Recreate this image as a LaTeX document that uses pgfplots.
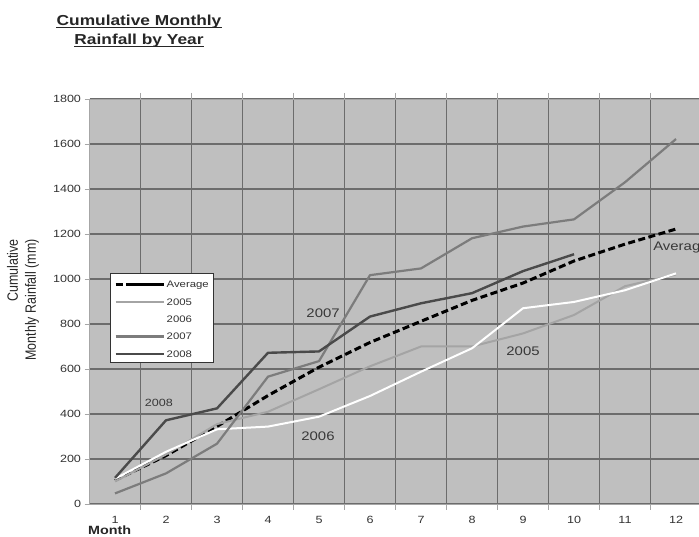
\documentclass[border=0pt]{standalone}
\usepackage{pgfplots}
\pgfplotsset{compat=1.18}
\usepackage{fontspec}
\setmainfont[FakeStretch=1.2]{Liberation Sans}
\newfontfamily\plainsans{Liberation Sans}
\definecolor{plotbg}{HTML}{BFBFBF}
\definecolor{gridc}{HTML}{6C6C6C}
\definecolor{tickc}{HTML}{333333}
\definecolor{annc}{HTML}{383838}
\definecolor{cA}{HTML}{A4A4A4}
\definecolor{cB}{HTML}{7C7C7C}
\definecolor{cC}{HTML}{4A4A4A}

\begin{document}
\begin{tikzpicture}[x=1bp,y=1bp]
\useasboundingbox (0,0) rectangle (699,537);
\clip (0,0) rectangle (699,537);
\fill[white] (0,0) rectangle (699,537);

% title
\node[anchor=base, inner sep=0pt, font=\bfseries\fontsize{14.5}{17}\selectfont, text=black!85] (t1) at (139,511.5) {Cumulative Monthly};
\draw[line width=1.1bp, black!85] ([yshift=-2.3bp]t1.base west) -- ([yshift=-2.3bp]t1.base east);
\node[anchor=base, inner sep=0pt, font=\bfseries\fontsize{14.5}{17}\selectfont, text=black!85] (t2) at (139,492.5) {Rainfall by Year};
\draw[line width=1.1bp, black!85] ([yshift=-2.3bp]t2.base west) -- ([yshift=-2.3bp]t2.base east);

% y label
\node[rotate=90, align=right, inner sep=0pt, font=\plainsans\fontsize{12.5}{18}\selectfont, text=black!85] at (23,237) {\scalebox{1}[1.2]{Cumulative}\\\scalebox{1}[1.2]{Monthly Rainfall (mm)}};

% x label
\node[anchor=base west, inner sep=0pt, font=\bfseries\fontsize{12}{14}\selectfont, text=black!85] at (88,2.5) {Month};

\begin{axis}[
  at={(89.5bp,33bp)}, anchor=south west,
  scale only axis, width=612bp, height=405bp,
  xmin=0.5, xmax=12.5, ymin=0, ymax=1800,
  xtick={1,...,12},
  minor xtick={1.5,2.5,...,12.5},
  ytick={0,200,...,1800},
  xminorgrids=true, ymajorgrids=true, xmajorgrids=false,
  grid style={draw=gridc, line width=1.3bp},
  minor grid style={draw=gridc, line width=1.3bp},
  axis background/.style={fill=plotbg},
  axis line style={draw=gray!70, line width=0.8bp},
  tick align=outside,
  major x tick style={draw=none},
  minor x tick style={draw=gray!70, line width=0.8bp},
  major y tick style={draw=gray!70, line width=0.8bp},
  major tick length=5bp, minor tick length=6bp,
  /pgf/number format/assume math mode=true,
  /pgf/number format/set thousands separator={},
  ticklabel style={font=\fontsize{10.5}{12}\selectfont, text=tickc},
  xticklabel style={yshift=-4bp},
  legend cell align=left,
  legend image code/.code={\draw[#1] (15bp,3.3bp) -- (48bp,3.3bp); \path (0bp,3.3bp) -- (48bp,3.3bp);},
  legend style={at={(0.0335,0.570)}, anchor=north west, fill=white, draw=black!80, thin,
    font=\fontsize{9.5}{11}\selectfont, text=tickc,
    inner xsep=4bp, inner ysep=1bp, row sep=0pt,
    /tikz/column sep=1.5bp,
    nodes={inner sep=0pt, text height=13.5bp, text depth=3.8bp, anchor=base west}},
]
\addplot[black, line width=3bp, dash pattern=on 7bp off 3.5bp] coordinates {
 (1,105) (2,215) (3,345) (4,482) (5,608) (6,718) (7,812) (8,905) (9,982) (10,1080) (11,1155) (12,1222)};
\addlegendentry{Average}
\addplot[cA, line width=2bp, line join=round] coordinates {
 (1,100) (2,220) (3,355) (4,410) (5,510) (6,612) (7,700) (8,700) (9,758) (10,840) (11,968) (12,1020)};
\addlegendentry{2005}
\addplot[white, line width=2bp, line join=round] coordinates {
 (1,112) (2,232) (3,332) (4,344) (5,388) (6,480) (7,588) (8,692) (9,870) (10,898) (11,950) (12,1025)};
\addlegendentry{2006}
\addplot[cB, line width=2.2bp, line join=round] coordinates {
 (1,47) (2,136) (3,268) (4,566) (5,635) (6,1017) (7,1047) (8,1181) (9,1233) (10,1265) (11,1430) (12,1622)};
\addlegendentry{2007}
\addplot[cC, line width=2.4bp, line join=round] coordinates {
 (1,116) (2,372) (3,425) (4,672) (5,678) (6,833) (7,892) (8,937) (9,1035) (10,1110)};
\addlegendentry{2008}

\node[font=\fontsize{10.5}{12}\selectfont, text=annc] at (axis cs:1.86,449) {2008};
\node[font=\fontsize{12.5}{14}\selectfont, text=annc] at (axis cs:5.08,849) {2007};
\node[font=\fontsize{12.5}{14}\selectfont, text=annc] at (axis cs:4.98,302) {2006};
\node[font=\fontsize{12.5}{14}\selectfont, text=annc] at (axis cs:9.0,680) {2005};
\node[anchor=west, inner sep=0pt, font=\fontsize{12.5}{14}\selectfont, text=annc] at (axis cs:11.55,1142) {Average};
\end{axis}
\end{tikzpicture}
\end{document}
